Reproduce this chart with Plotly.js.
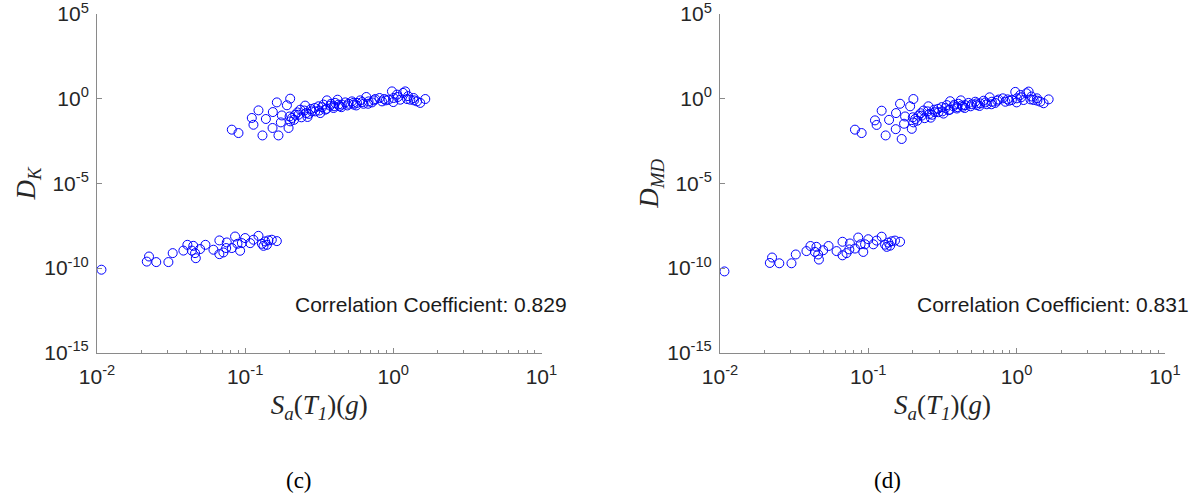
<!DOCTYPE html>
<html>
<head>
<meta charset="utf-8">
<script src="https://cdn.plot.ly/plotly-3.0.1.min.js"></script>
<style>html,body{margin:0;padding:0;background:#fff;}#chart{width:1199px;height:499px;}</style>
</head>
<body>
<div id="chart"></div>
<script>
// log10 of Sa(T1) (g) — lower group (small damage)
const lowLogSa = [-1.97,-1.664,-1.649,-1.60,-1.518,-1.489,-1.417,-1.39,-1.35,-1.36,-1.338,-1.333,-1.304,-1.268,-1.214,-1.174,-1.174,-1.147,-1.128,-1.124,-1.09,-1.068,-1.052,-1.034,-1.022,-1.0,-0.966,-0.944,-0.91,-0.887,-0.876,-0.853,-0.843,-0.82,-0.786,-0.865];
// log10 of D_K for lower group
const lowLogDK = [-10.1,-9.62,-9.32,-9.65,-9.65,-9.12,-8.97,-8.63,-8.69,-8.97,-9.12,-9.42,-8.88,-8.63,-8.92,-8.37,-9.18,-9.08,-8.82,-8.49,-8.82,-8.14,-8.57,-8.98,-8.53,-8.23,-8.53,-8.33,-8.10,-8.57,-8.69,-8.63,-8.37,-8.33,-8.41,-8.43];
// log10 of D_MD for lower group
const lowLogDMD = [-10.2,-9.70,-9.38,-9.72,-9.72,-9.2,-9.0,-8.7,-8.75,-9.05,-9.2,-9.5,-8.95,-8.7,-9.0,-8.45,-9.25,-9.12,-8.9,-8.55,-8.85,-8.2,-8.6,-9.05,-8.6,-8.3,-8.6,-8.38,-8.15,-8.62,-8.75,-8.68,-8.42,-8.38,-8.45,-8.5];

// log10 of Sa(T1) (g) — upper group
const upLogSa = [-1.090,-1.045,-0.910,-0.955,-0.944,-0.883,-0.860,-0.813,-0.786,-0.696,-0.718,-0.815,-0.775,-0.752,-0.759,-0.707,-0.696,-0.684,-0.662,-0.647,-0.628,-0.595,-0.588,-0.579,-0.556,-0.527,-0.505,-0.493,-0.471,-0.459,-0.448,-0.426,-0.403,-0.392,-0.376,-0.363,-0.347,-0.324,-0.302,-0.279,-0.268,-0.245,-0.223,-0.201,-0.182,-0.167,-0.144,-0.122,-0.093,-0.076,-0.061,-0.032,-0.009,0.002,0.025,0.047,0.066,0.081,0.093,0.115,0.137,0.160,0.182,0.216,
  -0.70,-0.67,-0.64,-0.62,-0.60,-0.57,-0.55,-0.53,-0.50,-0.48,-0.45,-0.42,-0.40,-0.37,-0.35,-0.31,-0.27,-0.25,-0.21,-0.17,-0.13,-0.05,0.00,0.03,0.10,0.14];
const upLogDK = [-1.83,-2.03,-0.69,-1.14,-1.54,-2.17,-1.20,-0.79,-0.22,0.0,-0.39,-1.73,-2.17,-0.99,-1.40,-1.73,-1.34,-1.14,-0.95,-0.81,-0.65,-0.41,-0.85,-1.08,-0.61,-0.75,-0.45,-0.85,-0.35,-0.65,-0.10,-0.41,-0.55,-0.25,-0.06,-0.45,-0.35,-0.22,-0.30,-0.16,-0.35,-0.25,-0.10,-0.30,0.10,-0.16,-0.22,-0.02,0.04,-0.16,-0.02,-0.06,0.43,0.04,0.24,-0.06,0.34,0.43,-0.02,-0.06,0.04,-0.16,-0.25,-0.02,
  -1.05,-1.25,-0.95,-1.10,-0.70,-0.90,-0.75,-0.55,-0.70,-0.50,-0.60,-0.30,-0.45,-0.35,-0.50,-0.40,-0.25,-0.40,-0.20,-0.30,-0.10,-0.10,-0.20,0.10,0.15,-0.10];
const upLogDMD = [-1.83,-2.03,-0.71,-1.28,-1.55,-2.17,-1.25,-0.85,-0.30,-0.02,-0.45,-1.80,-2.38,-1.05,-1.48,-1.78,-1.40,-1.20,-1.00,-0.86,-0.70,-0.45,-0.90,-1.12,-0.65,-0.80,-0.50,-0.88,-0.38,-0.68,-0.15,-0.45,-0.58,-0.30,-0.10,-0.48,-0.38,-0.25,-0.33,-0.18,-0.38,-0.28,-0.12,-0.33,0.08,-0.18,-0.25,-0.05,0.02,-0.18,-0.04,-0.08,0.40,0.02,0.22,-0.08,0.32,0.42,-0.04,-0.08,0.02,-0.18,-0.27,-0.04,
  -1.10,-1.30,-1.00,-1.15,-0.75,-0.95,-0.80,-0.60,-0.75,-0.55,-0.65,-0.35,-0.50,-0.40,-0.55,-0.45,-0.28,-0.43,-0.22,-0.33,-0.12,-0.12,-0.22,0.08,0.13,-0.12];

const corrLabels = ['Correlation Coefficient: 0.829', 'Correlation Coefficient: 0.831'];
const panelLabels = ['(c)', '(d)'];
const xTickVals = [0.01, 0.1, 1, 10];
const xTickText = ['10<sup>-2</sup>', '10<sup>-1</sup>', '10<sup>0</sup>', '10<sup>1</sup>'];
const yTickVals = [1e-15, 1e-10, 1e-5, 1, 1e5];
const yTickText = ['10<sup>-15</sup>', '10<sup>-10</sup>', '10<sup>-5</sup>', '10<sup>0</sup>', '10<sup>5</sup>'];

const pow10 = a => a.map(v => Math.pow(10, v));
const marker = {symbol: 'circle-open', size: 9, color: 'rgb(0,0,255)', line: {width: 1, color: 'rgb(0,0,255)'}};

const traces = [
  {x: pow10(lowLogSa.concat(upLogSa)), y: pow10(lowLogDK.concat(upLogDK)), type: 'scatter', mode: 'markers', marker: marker, xaxis: 'x', yaxis: 'y', showlegend: false},
  {x: pow10(lowLogSa.concat(upLogSa)), y: pow10(lowLogDMD.concat(upLogDMD)), type: 'scatter', mode: 'markers', marker: marker, xaxis: 'x2', yaxis: 'y2', showlegend: false}
];

const minorX = [];
for (let k = -2; k < 1; k++) for (let m = 2; m <= 9; m++) minorX.push(m * Math.pow(10, k));

const axisGray = '#8a8a8a';
const tickFont = {family: 'Liberation Sans, Arial, sans-serif', size: 21, color: '#262626'};
const titleFont = {family: 'Liberation Serif, Times New Roman, serif', size: 27, color: '#262626'};

function xAx(anchor, domain) {
  return {type: 'log', range: [-2, 1.0005], domain: domain, anchor: anchor,
    showline: true, linecolor: axisGray, linewidth: 1, mirror: false, showgrid: false, zeroline: false,
    ticks: 'inside', ticklen: 5, tickcolor: axisGray, tickwidth: 1,
    tickvals: xTickVals, ticktext: xTickText, tickfont: tickFont, ticklabelstandoff: 5, ticklabeloverflow: 'allow',
    minor: {ticks: 'inside', ticklen: 3, tickcolor: axisGray, tickvals: minorX, showgrid: false},
    title: {text: '<i>S</i><sub><i>a</i></sub>(<i>T</i><sub><i>1</i></sub>)(<i>g</i>)', font: titleFont, standoff: 8},
    automargin: false, fixedrange: true};
}
function yAx(anchor, domain, label) {
  return {type: 'log', range: [-15.0005, 5.0005], domain: domain, anchor: anchor,
    showline: true, linecolor: axisGray, linewidth: 1, mirror: false, showgrid: false, zeroline: false,
    ticks: 'inside', ticklen: 5, tickcolor: axisGray, tickwidth: 1,
    tickvals: yTickVals, ticktext: yTickText, tickfont: tickFont, ticklabelstandoff: 3, ticklabeloverflow: 'allow',
    title: {text: label, font: titleFont, standoff: 0},
    automargin: false, fixedrange: true};
}

const yDom = [1 - 352.7 / 499, 1 - 14 / 499];
const layout = {
  width: 1199, height: 499,
  margin: {l: 0, r: 0, t: 0, b: 0},
  paper_bgcolor: '#fff', plot_bgcolor: '#fff',
  showlegend: false,
  xaxis: xAx('y', [97 / 1199, 541.5 / 1199]),
  yaxis: yAx('x', yDom, '<i>D</i><sub><i>K</i></sub>'),
  xaxis2: xAx('y2', [720 / 1199, 1165 / 1199]),
  yaxis2: yAx('x2', yDom, '<i>D</i><sub><i>MD</i></sub>'),
  annotations: [
    {text: corrLabels[0], xref: 'paper', yref: 'paper', x: 569 / 1199, y: 1 - 304 / 499, xanchor: 'right', yanchor: 'middle', showarrow: false, font: {family: 'Liberation Sans, Arial, sans-serif', size: 21, color: '#1a1a1a'}},
    {text: corrLabels[1], xref: 'paper', yref: 'paper', x: 1191 / 1199, y: 1 - 304 / 499, xanchor: 'right', yanchor: 'middle', showarrow: false, font: {family: 'Liberation Sans, Arial, sans-serif', size: 21, color: '#1a1a1a'}},
    {text: panelLabels[0], xref: 'paper', yref: 'paper', x: 299 / 1199, y: 1 - 480 / 499, xanchor: 'center', yanchor: 'middle', showarrow: false, font: {family: 'Liberation Serif, Times New Roman, serif', size: 23, color: '#000'}},
    {text: panelLabels[1], xref: 'paper', yref: 'paper', x: 888 / 1199, y: 1 - 480 / 499, xanchor: 'center', yanchor: 'middle', showarrow: false, font: {family: 'Liberation Serif, Times New Roman, serif', size: 23, color: '#000'}}
  ]
};

Plotly.newPlot('chart', traces, layout, {staticPlot: true, displayModeBar: false});
</script>
</body>
</html>
